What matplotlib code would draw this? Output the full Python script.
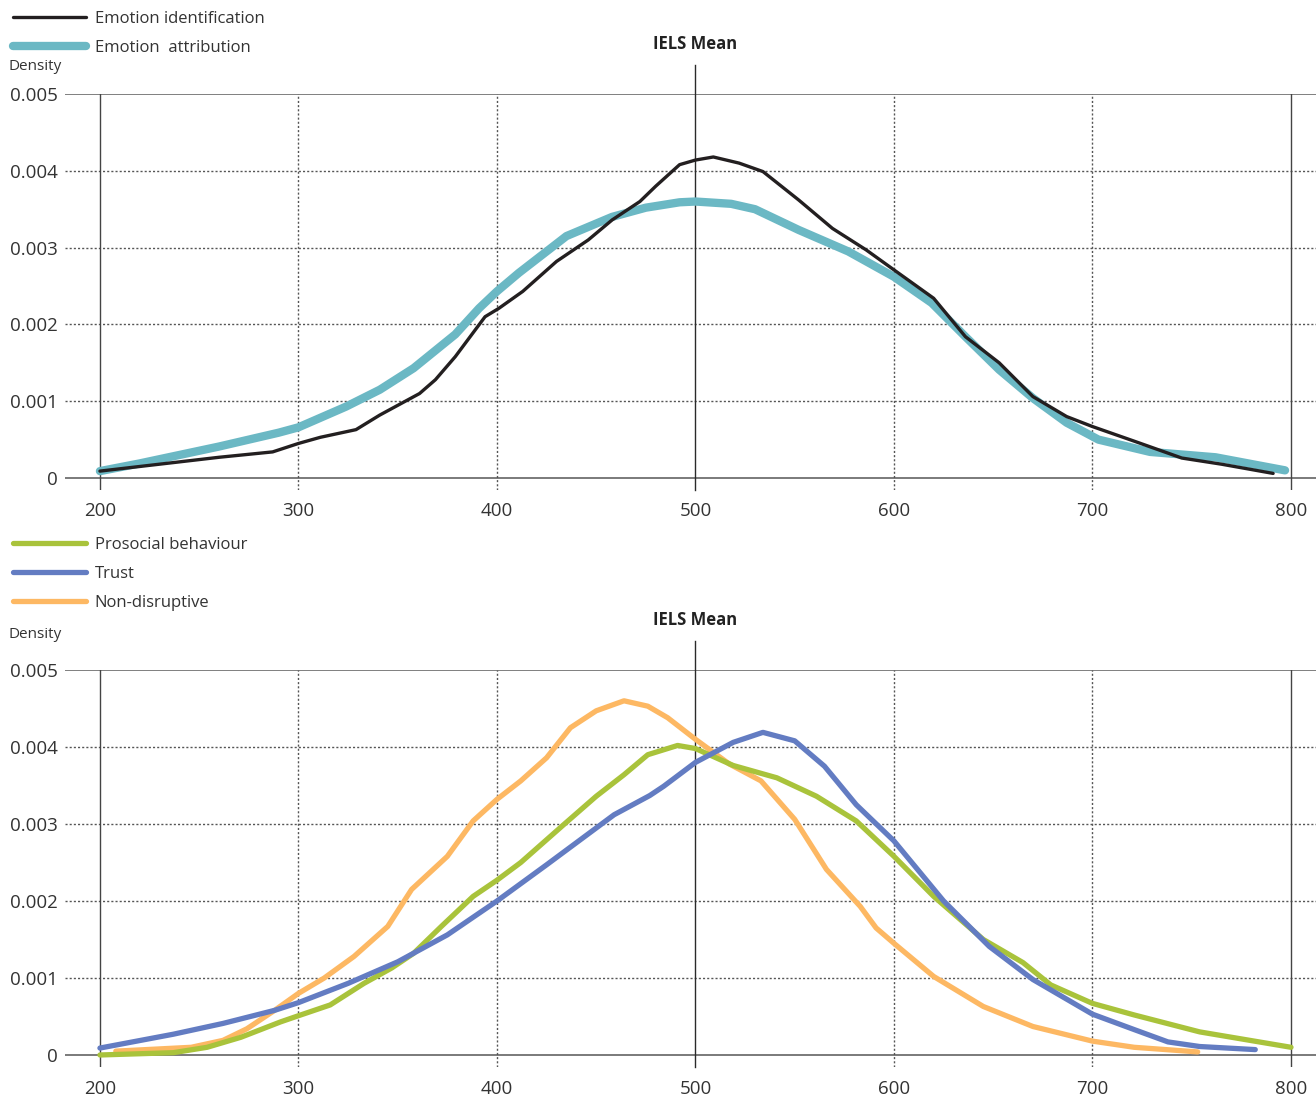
import matplotlib
matplotlib.use("Agg")
import matplotlib.pyplot as plt

plt.rcParams['font.family'] = ['Open Sans', 'DejaVu Sans']

# ---- Emotion panel -------------------------------------------------------
ident_x = [200, 220, 240, 260, 287, 300, 311, 329, 341, 361, 369, 379, 394, 401,
           413, 430, 446, 458, 472, 480, 492, 500, 509, 522, 534, 552, 569, 586,
           600, 620, 636, 653, 670, 687, 700, 721, 745, 765, 791]
ident_y = [0.00009, 0.00015, 0.00021, 0.00027, 0.00034, 0.00045, 0.00053, 0.00063,
           0.00082, 0.0011, 0.00128, 0.00158, 0.0021, 0.00221, 0.00243, 0.00282,
           0.0031, 0.00336, 0.0036, 0.0038, 0.00408, 0.00414, 0.00418, 0.0041,
           0.00399, 0.00362, 0.00325, 0.00297, 0.00271, 0.00234, 0.00184, 0.0015,
           0.00106, 0.0008, 0.00067, 0.00048, 0.00026, 0.00018, 0.00006]

attr_x = [200, 220, 240, 260, 280, 290, 300, 324, 341, 358, 379, 391, 400, 411,
          435, 458, 475, 492, 500, 518, 530, 552, 577, 600, 619, 636, 653, 670,
          687, 703, 729, 762, 797]
attr_y = [0.00009, 0.00019, 0.0003, 0.00041, 0.00053, 0.00059, 0.00066, 0.00093,
          0.00115, 0.00143, 0.00187, 0.00221, 0.00243, 0.00267, 0.00315, 0.0034,
          0.00352, 0.00359, 0.0036, 0.00357, 0.0035, 0.00323, 0.00295, 0.00262,
          0.00228, 0.00184, 0.00141, 0.00104, 0.00072, 0.0005, 0.00034, 0.00027,
          0.0001]

# ---- Social panel --------------------------------------------------------
pro_x = [200, 237, 254, 271, 291, 300, 316, 333, 347, 358, 372, 388, 400, 412,
         434, 450, 464, 476, 491, 500, 519, 541, 561, 581, 600, 620, 645, 665,
         679, 700, 721, 754, 800]
pro_y = [0.0, 0.00003, 0.0001, 0.00023, 0.00043, 0.00051, 0.00065, 0.00093,
         0.00113, 0.00132, 0.00167, 0.00206, 0.00227, 0.0025, 0.003, 0.00336,
         0.00364, 0.0039, 0.00402, 0.00398, 0.00376, 0.0036, 0.00336, 0.00304,
         0.00258, 0.00206, 0.0015, 0.0012, 0.00091, 0.00067, 0.00052, 0.0003,
         0.0001]

trust_x = [200, 237, 262, 288, 300, 325, 350, 375, 400, 425, 459, 477, 484, 500,
           519, 534, 550, 565, 581, 600, 625, 648, 670, 700, 721, 738, 754, 782]
trust_y = [0.00009, 0.00027, 0.00041, 0.00058, 0.00068, 0.00093, 0.00121, 0.00156,
           0.002, 0.00247, 0.00312, 0.00337, 0.00349, 0.0038, 0.00406, 0.00419,
           0.00408, 0.00375, 0.00325, 0.00278, 0.002, 0.00141, 0.00098, 0.00053,
           0.00033, 0.00017, 0.00011, 0.00007]

nondis_x = [208, 246, 262, 274, 288, 300, 313, 328, 345, 357, 375, 388, 400, 412,
            425, 437, 450, 464, 476, 486, 500, 517, 533, 550, 566, 583, 591, 600,
            620, 645, 670, 700, 721, 753]
nondis_y = [0.00005, 0.0001, 0.00019, 0.00034, 0.00058, 0.0008, 0.001, 0.00128,
            0.00167, 0.00215, 0.00258, 0.00304, 0.00332, 0.00356, 0.00386, 0.00425,
            0.00447, 0.0046, 0.00453, 0.00438, 0.0041, 0.00378, 0.00356, 0.00306,
            0.00241, 0.00193, 0.00165, 0.00145, 0.00102, 0.00063, 0.00037, 0.00018,
            0.0001, 0.00004]

x_ticks = [200, 300, 400, 500, 600, 700, 800]
y_ticks = [0, 0.001, 0.002, 0.003, 0.004, 0.005]
y_tick_labels = ['0', '0.001', '0.002', '0.003', '0.004', '0.005']
iels_mean = 500

W, H = 1316, 1096
fig = plt.figure(figsize=(W / 100, H / 100), dpi=100)

TXT = '#333333'
GRID = '#555555'


def px_rect(left, top, right, bottom):
    return [left / W, 1 - bottom / H, (right - left) / W, (bottom - top) / H]


def frame(rect_px):
    left, top, right, bottom = rect_px
    h = bottom - top
    ax = fig.add_axes(px_rect(*rect_px))
    ax.set_xlim(182.4, 812.6)
    ax.set_ylim(-0.000156, 0.005)
    for s in ax.spines.values():
        s.set_visible(False)
    ax.set_xticks(x_ticks)
    ax.set_xticklabels([str(v) for v in x_ticks])
    ax.set_yticks(y_ticks)
    ax.set_yticklabels(y_tick_labels)
    ax.tick_params(axis='both', length=0, labelsize=13.5, colors=TXT)
    ax.tick_params(axis='x', pad=9)
    ax.tick_params(axis='y', pad=5)
    # dotted horizontal grid
    for v in y_ticks[1:-1]:
        ax.axhline(v, color=GRID, lw=1.0, ls=(0, (1.5, 1.5)), zorder=1)
    ax.axhline(0, color='#7a7a7a', lw=1.4, zorder=1)
    ax.axhline(0.005, color='#6a6a6a', lw=1.2, zorder=1)
    # vertical lines
    for v in x_ticks:
        if v in (200, 800):
            ax.axvline(v, color='#444444', lw=1.0, zorder=1)
        elif v == iels_mean:
            ax.axvline(v, ymin=0, ymax=1 + 29 / h, color='#2a2a2a', lw=1.0,
                       zorder=1, clip_on=False)
        else:
            ax.axvline(v, color=GRID, lw=1.0, ls=(0, (1.5, 1.5)), zorder=1)
    ax.text(iels_mean, 1 + 50 / h, 'IELS Mean',
            transform=ax.get_xaxis_transform(), ha='center', va='center',
            fontsize=12, fontweight='bold', color='#222222')
    return ax


line_kw = dict(solid_capstyle='round', solid_joinstyle='round')
leg_kw = dict(loc='upper left', frameon=False, fontsize=12, handlelength=4.4,
              handletextpad=0.5, labelspacing=0.78, borderpad=0,
              borderaxespad=0)

# Top panel
ax1 = frame((65, 94, 1316, 490))
l_id, = ax1.plot(ident_x, ident_y, color='#231f20', lw=2.4,
                 label='Emotion identification', zorder=4, **line_kw)
l_at, = ax1.plot(attr_x, attr_y, color='#6bb8c4', lw=6.0,
                 label='Emotion  attribution', zorder=3, **line_kw)
fig.text(8 / W, 1 - 67 / H, 'Density', ha='left', va='center', fontsize=11,
         color=TXT)
leg1 = fig.legend(handles=[l_id, l_at], bbox_to_anchor=(13 / W, 1 - 11 / H),
                  **leg_kw)
for t in leg1.get_texts():
    t.set_color(TXT)

# Bottom panel
ax2 = frame((65, 670, 1316, 1067))
l_pro, = ax2.plot(pro_x, pro_y, color='#a9c33b', lw=3.8,
                  label='Prosocial behaviour', zorder=3, **line_kw)
l_tr, = ax2.plot(trust_x, trust_y, color='#637cc2', lw=3.8,
                 label='Trust', zorder=4, **line_kw)
l_nd, = ax2.plot(nondis_x, nondis_y, color='#fdb863', lw=3.8,
                 label='Non-disruptive', zorder=2, **line_kw)
fig.text(8 / W, 1 - 634 / H, 'Density', ha='left', va='center', fontsize=11,
         color=TXT)
leg2 = fig.legend(handles=[l_pro, l_tr, l_nd],
                  bbox_to_anchor=(13 / W, 1 - 537 / H), **leg_kw)
for t in leg2.get_texts():
    t.set_color(TXT)

fig.savefig('out.png', dpi=100, facecolor='white')
